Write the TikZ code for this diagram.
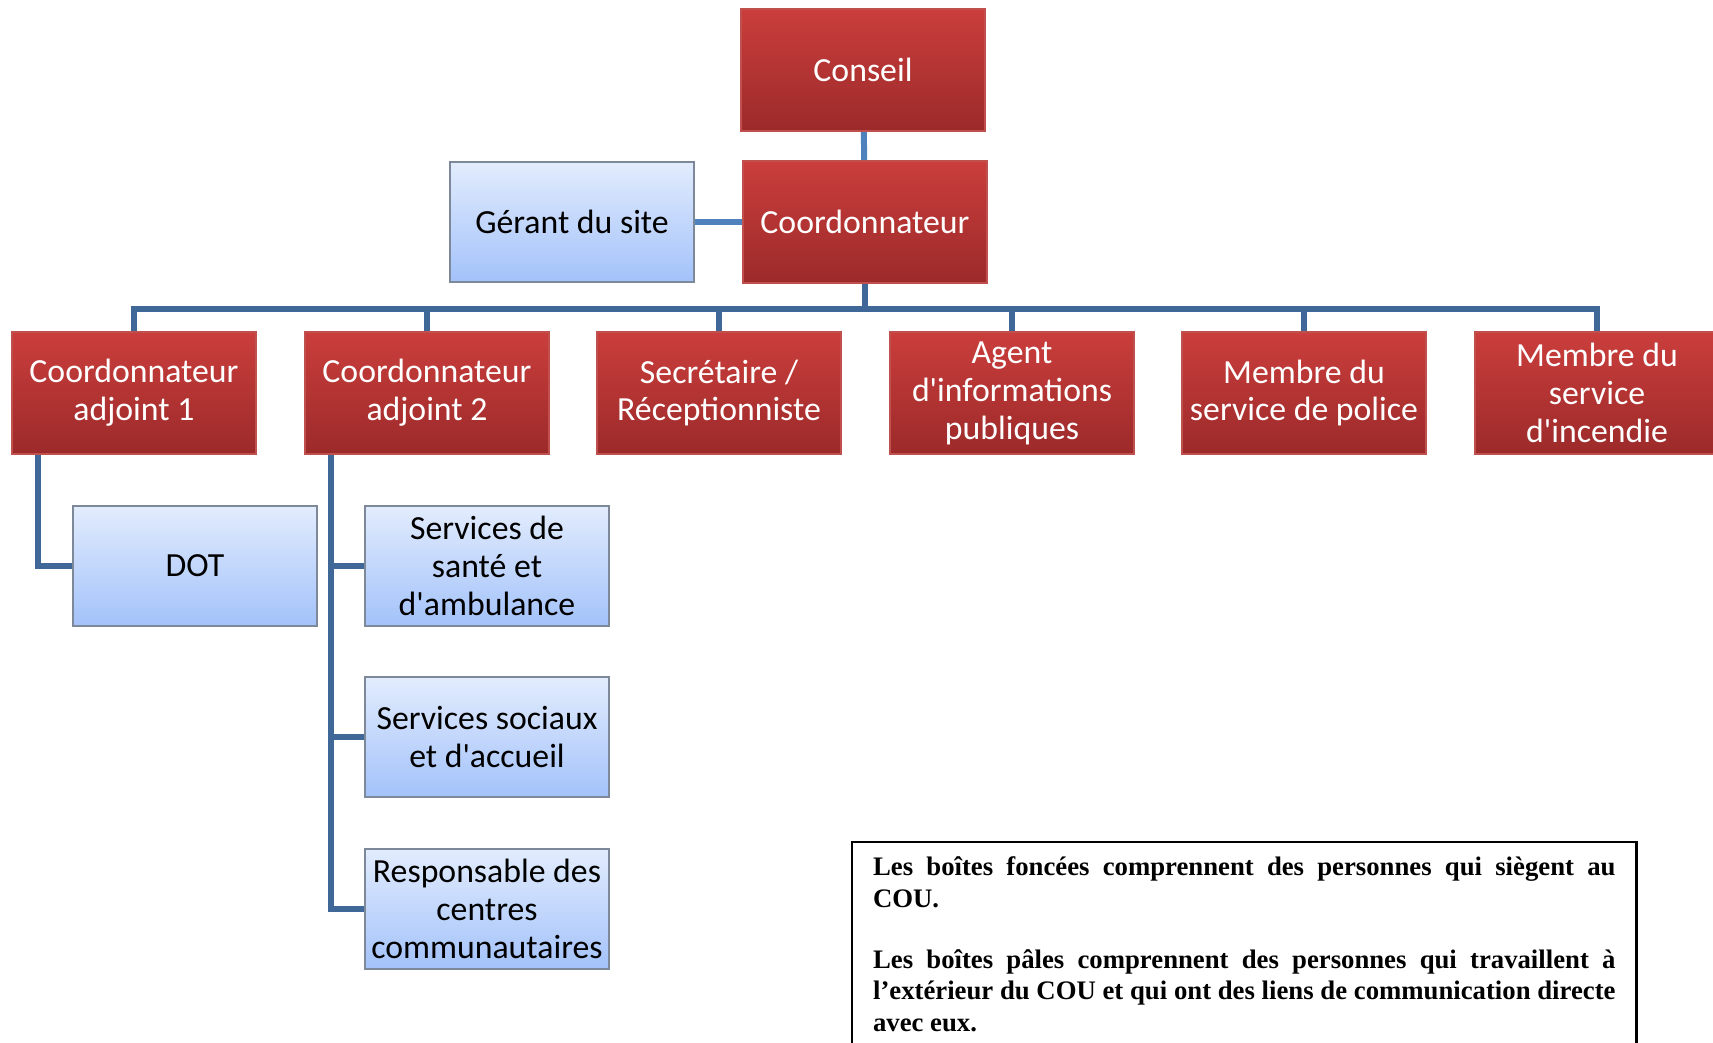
\documentclass[tikz,border=0pt]{standalone}
\usepackage{fontspec}
\setmainfont{Carlito}
\newfontfamily\notefont{Liberation Serif}
\setlength{\parindent}{0pt}
\definecolor{redTop}{HTML}{CA3E3C}
\definecolor{redBottom}{HTML}{9C2A2A}
\definecolor{redLine}{HTML}{C0504D}
\definecolor{blueTop}{HTML}{E2ECFD}
\definecolor{blueBottom}{HTML}{A3C2FA}
\definecolor{blueLine}{HTML}{7D8899}
\definecolor{linkBlue}{HTML}{4F81BD}
\definecolor{treeBlue}{HTML}{3F6797}
\newcommand{\apos}{\textquotesingle}

\begin{document}
\begin{tikzpicture}[x=0.01cm, y=-0.01cm,
	dark/.style={draw=redLine, line width=0.6pt, top color=redTop, bottom color=redBottom,
		text=white, minimum width=2.44cm, minimum height=1.22cm, inner sep=0pt,
		align=center, font=\fontsize{9.6}{10.8}\selectfont},
	pale/.style={draw=blueLine, line width=0.6pt, top color=blueTop, bottom color=blueBottom,
		text=black, minimum width=2.44cm, minimum height=1.2cm, inner sep=0pt,
		align=center, font=\fontsize{9.6}{10.8}\selectfont},
	link/.style={draw=linkBlue, line width=1.7pt},
	tree/.style={draw=treeBlue, line width=1.7pt}]
		\useasboundingbox (0, 0) rectangle (1713, 1043);
		%%%%%%%%%%%%%
		\node [dark] (conseil) at (863, 70) {Conseil};
		\node [dark] (coord) at (865, 222) {Coordonnateur};
		\node [pale] (gerant) at (572, 222) {Gérant du site};
		%%%%%%%%%%%%%
		\node [dark] (adj1) at (134, 393) {Coordonnateur\\adjoint 1};
		\node [dark] (adj2) at (427, 393) {Coordonnateur\\adjoint 2};
		\node [dark] (secr) at (719, 393) {Secrétaire /\\Réceptionniste};
		\node [dark] (agent) at (1012, 393) {Agent\\d\apos informations\\publiques};
		\node [dark] (police) at (1304, 393) {Membre du\\service de police};
		\node [dark] (incendie) at (1597, 393) {Membre du\\service\\d\apos incendie};
		%%%%%%%%%%%%%
		\node [pale] (dot) at (195, 566) {DOT};
		\node [pale] (sante) at (487, 566) {Services de\\santé et\\d\apos ambulance};
		\node [pale] (sociaux) at (487, 737) {Services sociaux\\et d\apos accueil};
		\node [pale] (resp) at (487, 909) {Responsable des\\centres\\communautaires};
		%%%%%%%%%%%%%
		\coordinate (bus) at (865, 309);
		\coordinate (t1) at (38, 455);
		\coordinate (t2) at (331, 455);
		%%%%%%%%%%%%%
		\draw [link] (conseil) to (coord);
		\draw [link] (gerant) to (coord);
		\draw [tree] (coord) to (bus);
		\foreach \n in {adj1, adj2, secr, agent, police, incendie}
			\draw [tree] (bus) -| (\n);
		\draw [tree] (t1) |- (dot);
		\draw [tree] (t2) |- (sante);
		\draw [tree] (t2) |- (sociaux);
		\draw [tree] (t2) |- (resp);
		%%%%%%%%%%%%%
		\node [draw, line width=0.6pt, anchor=north west, text width=7.42cm, inner xsep=0.21cm,
			inner ysep=0.15cm, align=justify, font=\notefont\bfseries\fontsize{7.6}{8.9}\selectfont]
			(note) at (851, 841) {Les boîtes foncées comprennent des personnes qui siègent au\linebreak COU.\par\vspace{8.5pt}%
			Les boîtes pâles comprennent des personnes qui travaillent à\linebreak l’extérieur du COU et qui ont des liens de communication directe\linebreak avec eux.};
\end{tikzpicture}
\end{document}
